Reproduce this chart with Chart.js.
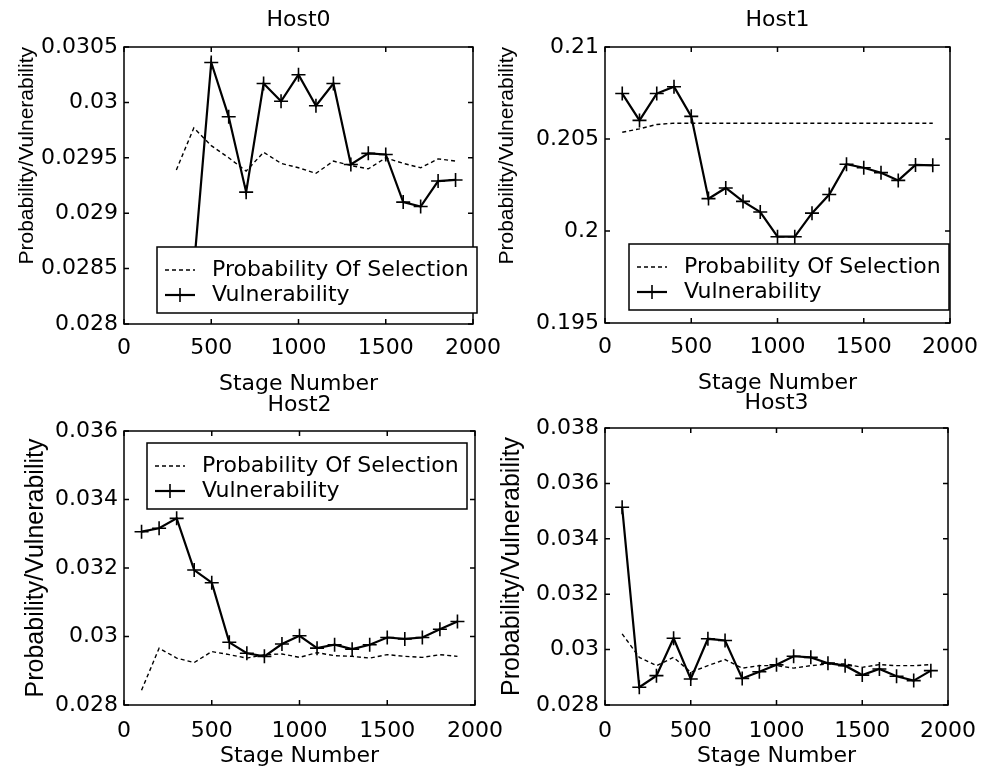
<!DOCTYPE html>
<html>
<head>
<meta charset="utf-8">
<script src="https://cdn.jsdelivr.net/npm/chart.js@4"></script>
<style>
  body { margin: 0; background: #fff; }
  #wrap { position: relative; width: 989px; height: 779px; }
  canvas { position: absolute; left: 0; top: 0; }
</style>
</head>
<body>
<div id="wrap">
  <canvas id="c0" width="989" height="779"></canvas>
  <canvas id="c1" width="989" height="779"></canvas>
  <canvas id="c2" width="989" height="779"></canvas>
  <canvas id="c3" width="989" height="779"></canvas>
</div>
<script>
// stage numbers shared by all four hosts
const stages = [100, 200, 300, 400, 500, 600, 700, 800, 900, 1000,
                1100, 1200, 1300, 1400, 1500, 1600, 1700, 1800, 1900];

const host0Prob = [null, null, 0.02939, 0.02977, 0.02961, 0.0295, 0.02938, 0.02955, 0.02945, 0.02941,
                   0.02936, 0.02947, 0.02943, 0.0294, 0.0295, 0.02945, 0.02941, 0.02949, 0.02947];
const host0Vuln = [null, null, null, 0.0285, 0.03036, 0.02987, 0.02919, 0.03017, 0.03001, 0.03025,
                   0.02997, 0.03017, 0.02944, 0.02954, 0.02953, 0.0291, 0.02906, 0.02929, 0.0293];

const host1Prob = [0.20537, 0.20555, 0.20579, 0.20586, 0.20586, 0.20586, 0.20586, 0.20586, 0.20586, 0.20586,
                   0.20586, 0.20586, 0.20586, 0.20586, 0.20586, 0.20586, 0.20586, 0.20586, 0.20586];
const host1Vuln = [0.20747, 0.20601, 0.20747, 0.20784, 0.20623, 0.20176, 0.20234, 0.20161, 0.20103, 0.19969,
                   0.19969, 0.20097, 0.20198, 0.20363, 0.20344, 0.20317, 0.20275, 0.20359, 0.20357];

const host2Prob = [0.02843, 0.02966, 0.02937, 0.02924, 0.02956, 0.02947, 0.02937, 0.02947, 0.02949, 0.02939,
                   0.02953, 0.02944, 0.02942, 0.02937, 0.02947, 0.02942, 0.02939, 0.02947, 0.02942];
const host2Vuln = [0.03306, 0.03316, 0.03345, 0.03194, 0.03157, 0.02983, 0.02951, 0.02942, 0.02978, 0.03002,
                   0.02966, 0.02976, 0.02963, 0.02976, 0.02997, 0.02993, 0.02997, 0.03021, 0.03044];

const host3Prob = [0.03057, 0.02972, 0.02942, 0.02972, 0.02918, 0.02942, 0.02964, 0.02933, 0.02942, 0.02942,
                   0.02933, 0.02942, 0.02948, 0.02948, 0.02936, 0.02946, 0.02942, 0.02942, 0.02946];
const host3Vuln = [0.03514, 0.02864, 0.02906, 0.03041, 0.02894, 0.03039, 0.03033, 0.02896, 0.0292, 0.02945,
                   0.02976, 0.02972, 0.02951, 0.02942, 0.02908, 0.0293, 0.02904, 0.02888, 0.02924];

const xTicks = [0, 500, 1000, 1500, 2000];
const host0YTicks = [0.028, 0.0285, 0.029, 0.0295, 0.03, 0.0305];
const host1YTicks = [0.195, 0.2, 0.205, 0.21];
const host2YTicks = [0.028, 0.03, 0.032, 0.034, 0.036];
const host3YTicks = [0.028, 0.03, 0.032, 0.034, 0.036, 0.038];

const legendLabels = ["Probability Of Selection", "Vulnerability"];
const xTitle = "Stage Number";
const yTitle = "Probability/Vulnerability";

const FONT = { family: "DejaVu Sans", size: 22, weight: "normal" };

// layout of each subplot on the shared page (chart area placed by padding + fixed axis sizes)
const panels = [
  { id: "c0", title: "Host0", prob: host0Prob, vuln: host0Vuln, yTicks: host0YTicks,
    pad: { left: 15, right: 516, top: 7, bottom: 382 }, titleGap: 13.6,
    yWidth: 109, yTitleSize: 21, yTitleAlign: "end",
    xHeight: 73, xPad: 11, legend: { dx: 33, dy: 200 } },
  { id: "c1", title: "Host1", prob: host1Prob, vuln: host1Vuln, yTicks: host1YTicks,
    pad: { left: 495, right: 36, top: 7, bottom: 383 }, titleGap: 13.6,
    yWidth: 110, yTitleSize: 21, yTitleAlign: "end",
    xHeight: 73, xPad: 11, legend: { dx: 24, dy: 197 } },
  { id: "c2", title: "Host2", prob: host2Prob, vuln: host2Vuln, yTicks: host2YTicks,
    pad: { left: 21, right: 514, top: 392, bottom: 10 }, titleGap: 12.6,
    yWidth: 103, yTitleSize: 25, yTitleAlign: "center",
    xHeight: 64, xPad: 13, legend: { dx: 23, dy: 12 } },
  { id: "c3", title: "Host3", prob: host3Prob, vuln: host3Vuln, yTicks: host3YTicks,
    pad: { left: 497, right: 34, top: 390, bottom: 10 }, titleGap: 11.6,
    yWidth: 108, yTitleSize: 25, yTitleAlign: "center",
    xHeight: 64, xPad: 13, legend: null }
];

function drawCross(ctx, x, y, r) {
  ctx.moveTo(x - r, y); ctx.lineTo(x + r, y);
  ctx.moveTo(x, y - r); ctx.lineTo(x, y + r);
}

// box round the axes with inward ticks, then the boxed legend on top
const framePlugin = {
  id: "frame",
  afterDatasetsDraw(chart, args, opts) {
    const { ctx, chartArea: a, scales } = chart;
    ctx.save();
    ctx.strokeStyle = "#000";
    ctx.lineWidth = 1.5;
    ctx.strokeRect(a.left, a.top, a.right - a.left, a.bottom - a.top);
    ctx.beginPath();
    scales.x.ticks.forEach(t => {
      const px = scales.x.getPixelForValue(t.value);
      ctx.moveTo(px, a.bottom); ctx.lineTo(px, a.bottom - 5);
      ctx.moveTo(px, a.top); ctx.lineTo(px, a.top + 5);
    });
    scales.y.ticks.forEach(t => {
      const py = scales.y.getPixelForValue(t.value);
      ctx.moveTo(a.left, py); ctx.lineTo(a.left + 5, py);
      ctx.moveTo(a.right, py); ctx.lineTo(a.right - 5, py);
    });
    ctx.stroke();

    const lg = opts.legend;
    if (lg) {
      const lx = a.left + lg.dx, ly = a.top + lg.dy, w = 320, h = 66;
      ctx.fillStyle = "#fff";
      ctx.fillRect(lx, ly, w, h);
      ctx.lineWidth = 1.5;
      ctx.strokeRect(lx, ly, w, h);
      const r1 = ly + 23, r2 = ly + 48;
      // dashed sample
      ctx.lineWidth = 1.4;
      ctx.setLineDash([4, 3]);
      ctx.beginPath(); ctx.moveTo(lx + 8, r1); ctx.lineTo(lx + 38, r1); ctx.stroke();
      ctx.setLineDash([]);
      // solid + marker sample
      ctx.lineWidth = 2.2;
      ctx.beginPath(); ctx.moveTo(lx + 8, r2); ctx.lineTo(lx + 38, r2); ctx.stroke();
      ctx.lineWidth = 1.6;
      ctx.beginPath(); drawCross(ctx, lx + 23, r2, 7); ctx.stroke();
      ctx.fillStyle = "#000";
      ctx.font = FONT.size + "px '" + FONT.family + "'";
      ctx.textBaseline = "middle";
      ctx.textAlign = "left";
      ctx.fillText(legendLabels[0], lx + 55, r1);
      ctx.fillText(legendLabels[1], lx + 55, r2);
    }
    ctx.restore();
  }
};

panels.forEach(p => {
  new Chart(document.getElementById(p.id), {
    type: "line",
    data: {
      datasets: [
        {
          label: legendLabels[0],
          data: stages.map((s, i) => ({ x: s, y: p.prob[i] })),
          borderColor: "#000",
          borderWidth: 1.4,
          borderDash: [4, 3],
          pointRadius: 0,
          tension: 0,
          fill: false
        },
        {
          label: legendLabels[1],
          data: stages.map((s, i) => ({ x: s, y: p.vuln[i] })),
          borderColor: "#000",
          borderWidth: 2.2,
          pointStyle: "cross",
          pointRadius: 7,
          pointBorderWidth: 1.6,
          pointBorderColor: "#000",
          tension: 0,
          fill: false
        }
      ]
    },
    options: {
      responsive: false,
      animation: false,
      events: [],
      layout: { padding: p.pad },
      plugins: {
        legend: { display: false },
        tooltip: { enabled: false },
        title: {
          display: true,
          text: p.title,
          fullSize: false,
          color: "#000",
          font: FONT,
          padding: { top: 0, bottom: p.titleGap }
        },
        frame: { legend: p.legend }
      },
      scales: {
        x: {
          type: "linear",
          min: 0,
          max: 2000,
          afterBuildTicks: s => { s.ticks = xTicks.map(v => ({ value: v })); },
          afterFit: s => { s.height = p.xHeight; },
          grid: { display: false, drawTicks: false },
          border: { display: false },
          ticks: { color: "#000", font: FONT, padding: p.xPad, maxRotation: 0,
                   autoSkip: false, callback: v => String(v) },
          title: { display: true, text: xTitle, color: "#000", font: FONT, padding: 0 }
        },
        y: {
          type: "linear",
          min: p.yTicks[0],
          max: p.yTicks[p.yTicks.length - 1],
          afterBuildTicks: s => { s.ticks = p.yTicks.map(v => ({ value: v })); },
          afterFit: s => { s.width = p.yWidth; },
          grid: { display: false, drawTicks: false },
          border: { display: false },
          ticks: { color: "#000", font: FONT, padding: 6, callback: v => String(v) },
          title: { display: true, text: yTitle, color: "#000", align: p.yTitleAlign,
                   font: { family: "Liberation Sans", size: p.yTitleSize }, padding: 0 }
        }
      }
    },
    plugins: [framePlugin]
  });
});
</script>
</body>
</html>
